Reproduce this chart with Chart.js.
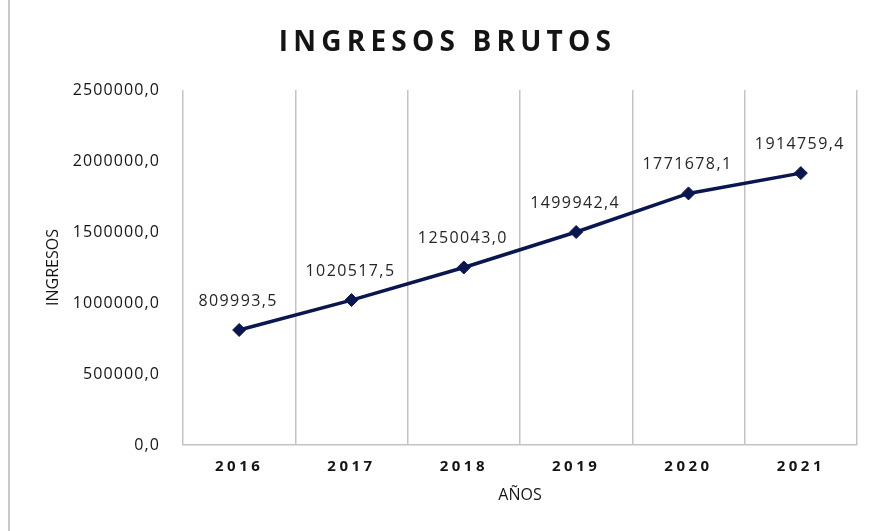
<!DOCTYPE html>
<html>
<head>
<meta charset="utf-8">
<script src="https://cdn.jsdelivr.net/npm/chart.js@4.4.1/dist/chart.umd.min.js"></script>
<style>
  html, body { margin: 0; padding: 0; background: #fff; }
  #wrap { position: relative; width: 871px; height: 531px; }
  #edge { position: absolute; left: 8px; top: 0; width: 2px; height: 531px; background: #c9c9c9; }
</style>
</head>
<body>
<div id="wrap">
  <div id="edge"></div>
  <canvas id="ingresos-chart" width="871" height="531"></canvas>
</div>
<script>
// Ingresos brutos por año
const years = ['2016', '2017', '2018', '2019', '2020', '2021'];
const ingresos = [809993.5, 1020517.5, 1250043.0, 1499942.4, 1771678.1, 1914759.4];
const yTicks = [0, 500000, 1000000, 1500000, 2000000, 2500000];

const lineColor = '#0a1650';
const fontFamily = '"Open Sans", "Liberation Sans", sans-serif';

function formatNumber(v) {
  return Number(v).toFixed(1).replace('.', ',');
}

// letter spacing for text drawn by the title and the scales
function wrapSpacing(target, method, spacing) {
  if (!target || target['_spaced_' + method]) return;
  const orig = target[method];
  target[method] = function () {
    const ctx = this.ctx;
    const prev = ctx.letterSpacing;
    ctx.letterSpacing = spacing;
    orig.apply(this, arguments);
    ctx.letterSpacing = prev || '0px';
  };
  target['_spaced_' + method] = true;
}

const spacedText = {
  id: 'spacedText',
  afterLayout(chart) {
    wrapSpacing(chart.titleBlock, 'draw', '5.2px');
    wrapSpacing(chart.scales.x, 'drawLabels', '3.5px');
    wrapSpacing(chart.scales.y, 'drawLabels', '1.1px');
  }
};

// value labels above each point
const pointLabels = {
  id: 'pointLabels',
  afterDatasetsDraw(chart) {
    const ctx = chart.ctx;
    const meta = chart.getDatasetMeta(0);
    ctx.save();
    ctx.font = '16px ' + fontFamily;
    ctx.letterSpacing = '1.4px';
    ctx.fillStyle = '#262626';
    ctx.textAlign = 'center';
    ctx.textBaseline = 'middle';
    meta.data.forEach((pt, i) => {
      ctx.fillText(formatNumber(ingresos[i]), pt.x - 1, pt.y - 29);
    });
    ctx.restore();
  }
};

const ctx = document.getElementById('ingresos-chart').getContext('2d');

new Chart(ctx, {
  type: 'line',
  data: {
    labels: years,
    datasets: [{
      data: ingresos,
      borderColor: lineColor,
      backgroundColor: lineColor,
      borderWidth: 3.5,
      pointStyle: 'rectRot',
      pointRadius: 6.5,
      pointBorderWidth: 1,
      tension: 0
    }]
  },
  options: {
    responsive: false,
    animation: false,
    layout: { padding: { left: 38, right: 14, top: 0, bottom: 0 } },
    plugins: {
      legend: { display: false },
      tooltip: { enabled: false },
      title: {
        display: true,
        text: 'INGRESOS BRUTOS',
        color: '#141414',
        font: { family: fontFamily, size: 28, weight: 'bold' },
        padding: { top: 26, bottom: 30.4 }
      }
    },
    scales: {
      x: {
        offset: true,
        grid: { display: true, offset: true, color: '#c4c4c4', lineWidth: 1.5, drawTicks: false },
        border: { display: true, color: '#c4c4c4', width: 1.5 },
        ticks: {
          color: '#141414',
          padding: 13,
          font: { family: fontFamily, size: 15, weight: 'bold' }
        },
        title: {
          display: true,
          text: 'AÑOS',
          color: '#141414',
          font: { family: fontFamily, size: 16 },
          padding: { top: 4, bottom: 25.5 }
        },
        afterFit(scale) { scale.height = 86; }
      },
      y: {
        min: 0,
        max: 2500000,
        afterBuildTicks(scale) { scale.ticks = yTicks.map(v => ({ value: v })); },
        grid: { display: false, drawTicks: false },
        border: { display: false },
        ticks: {
          color: '#141414',
          padding: 23,
          font: { family: fontFamily, size: 16, weight: '500' },
          callback: (v) => formatNumber(v)
        },
        title: {
          display: true,
          text: 'INGRESOS',
          color: '#141414',
          font: { family: fontFamily, size: 16 },
          padding: { top: 6, bottom: 0 }
        },
        afterFit(scale) { scale.width = 145; }
      }
    }
  },
  plugins: [spacedText, pointLabels]
});
</script>
</body>
</html>
